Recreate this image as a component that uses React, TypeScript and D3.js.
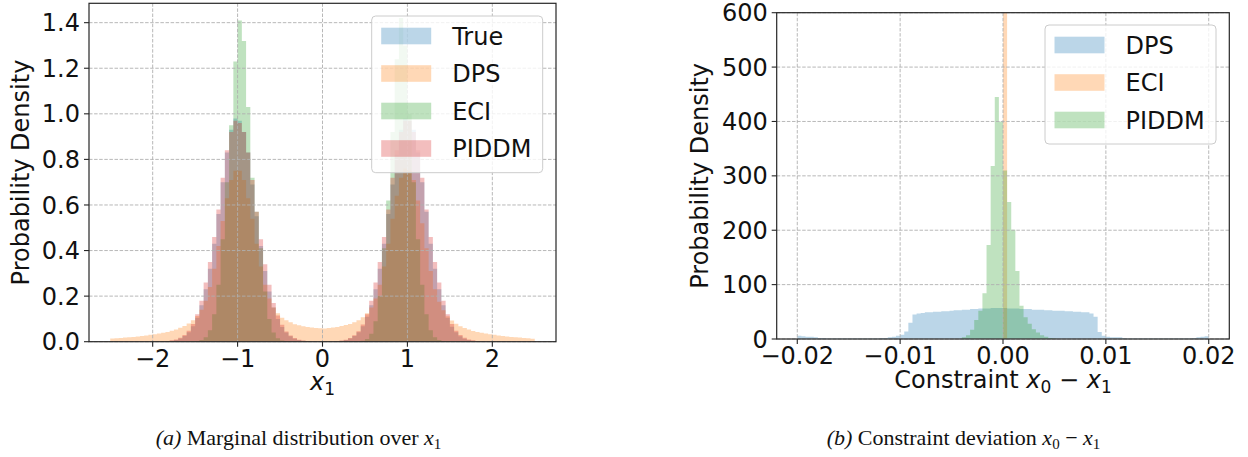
import React, { useEffect, useRef } from "react";
import * as d3 from "d3";

// ---- panel (a): marginal distribution over x1, 100 bins on [-2.5, 2.5]
const X1_BIN_START = -2.5;
const X1_BIN_WIDTH = 0.05;

const trueX1 = [
  0, 0, 0, 0, 0, 0, 0, 0, 0, 0,
  0, 0, 0.001, 0.002, 0.004, 0.008, 0.014, 0.025, 0.042, 0.068,
  0.105, 0.16, 0.23, 0.32, 0.43, 0.56, 0.7, 0.83, 0.93, 0.98,
  0.97, 0.92, 0.83, 0.69, 0.55, 0.42, 0.31, 0.22, 0.15, 0.1,
  0.065, 0.04, 0.024, 0.013, 0.007, 0.004, 0.002, 0.001, 0, 0,
  0, 0, 0.001, 0.002, 0.004, 0.008, 0.014, 0.025, 0.042, 0.068,
  0.11, 0.16, 0.23, 0.32, 0.43, 0.56, 0.69, 0.82, 0.93, 0.98,
  0.97, 0.93, 0.83, 0.7, 0.57, 0.43, 0.32, 0.23, 0.16, 0.105,
  0.066, 0.041, 0.024, 0.013, 0.007, 0.004, 0.002, 0.001, 0, 0,
  0, 0, 0, 0, 0, 0, 0, 0, 0, 0,
];

const dpsX1 = [
  0.014, 0.015, 0.016, 0.018, 0.019, 0.021, 0.023, 0.025, 0.027, 0.03,
  0.033, 0.036, 0.039, 0.043, 0.048, 0.054, 0.061, 0.069, 0.08, 0.094,
  0.113, 0.14, 0.18, 0.24, 0.32, 0.42, 0.53, 0.63, 0.71, 0.75,
  0.75, 0.71, 0.63, 0.54, 0.43, 0.33, 0.25, 0.19, 0.15, 0.125,
  0.105, 0.094, 0.085, 0.077, 0.072, 0.068, 0.065, 0.062, 0.06, 0.059,
  0.058, 0.06, 0.062, 0.065, 0.069, 0.073, 0.078, 0.085, 0.094, 0.107,
  0.125, 0.15, 0.19, 0.25, 0.33, 0.43, 0.54, 0.64, 0.72, 0.76,
  0.75, 0.71, 0.62, 0.52, 0.41, 0.31, 0.23, 0.175, 0.138, 0.112,
  0.093, 0.079, 0.068, 0.06, 0.053, 0.047, 0.043, 0.039, 0.036, 0.033,
  0.03, 0.027, 0.025, 0.023, 0.021, 0.019, 0.018, 0.016, 0.015, 0.013,
];

const eciX1 = [
  0, 0, 0, 0, 0, 0, 0, 0, 0, 0,
  0, 0, 0, 0, 0, 0, 0, 0, 0, 0,
  0.003, 0.008, 0.02, 0.05, 0.12, 0.25, 0.45, 0.7, 0.95, 1.23,
  1.41, 1.32, 1.03, 0.72, 0.57, 0.41, 0.22, 0.1, 0.04, 0.015,
  0.005, 0.002, 0, 0, 0, 0, 0, 0, 0, 0,
  0, 0, 0, 0, 0, 0, 0, 0, 0, 0.004,
  0.012, 0.035, 0.09, 0.2, 0.41, 0.62, 0.92, 1.24, 1.42, 1.3,
  1.0, 0.7, 0.45, 0.25, 0.12, 0.05, 0.02, 0.008, 0.003, 0,
  0, 0, 0, 0, 0, 0, 0, 0, 0, 0,
  0, 0, 0, 0, 0, 0, 0, 0, 0, 0,
];

const piddmX1 = [
  0, 0, 0, 0, 0, 0, 0, 0, 0, 0,
  0, 0.001, 0.0015, 0.003, 0.006, 0.01, 0.017, 0.029, 0.048, 0.078,
  0.12, 0.18, 0.26, 0.35, 0.46, 0.58, 0.72, 0.84, 0.92, 0.97,
  0.96, 0.92, 0.83, 0.71, 0.57, 0.45, 0.34, 0.25, 0.17, 0.115,
  0.074, 0.045, 0.027, 0.016, 0.009, 0.005, 0.003, 0.001, 0, 0,
  0, 0, 0.001, 0.003, 0.005, 0.009, 0.016, 0.028, 0.046, 0.076,
  0.12, 0.18, 0.26, 0.35, 0.46, 0.58, 0.72, 0.84, 0.92, 0.97,
  0.97, 0.92, 0.84, 0.72, 0.58, 0.46, 0.35, 0.26, 0.18, 0.12,
  0.078, 0.048, 0.029, 0.017, 0.01, 0.006, 0.003, 0.0015, 0.001, 0,
  0, 0, 0, 0, 0, 0, 0, 0, 0, 0,
];

const x1TickValues = [-2, -1, 0, 1, 2];
const x1DensityTicks = [0, 0.2, 0.4, 0.6, 0.8, 1.0, 1.2, 1.4];

// ---- panel (b): constraint deviation x0 - x1, 100 bins on [-0.02, 0.02]
const DEV_BIN_START = -0.02;
const DEV_BIN_WIDTH = 0.0004;

const dpsDev = [
  6, 5, 4, 4, 3, 2, 2, 1, 1, 1,
  1, 1, 1, 1, 1, 1, 1, 1, 1, 1,
  2, 2, 3, 4, 6, 8, 14, 30, 45, 47,
  48, 49, 49, 50, 50, 51, 51, 52, 53, 53,
  54, 54, 55, 55, 56, 56, 56, 57, 57, 57,
  57, 56, 56, 56, 55, 55, 55, 54, 54, 54,
  53, 53, 52, 52, 52, 51, 51, 50, 50, 49,
  49, 47, 41, 13, 6, 4, 3, 3, 3, 2,
  1, 1, 1, 1, 1, 1, 1, 1, 1, 1,
  1, 1, 1, 1, 1, 1, 2, 3, 4, 5,
];

const eciDev = [
  0, 0, 0, 0, 0, 0, 0, 0, 0, 0,
  0, 0, 0, 0, 0, 0, 0, 0, 0, 0,
  0, 0, 0, 0, 0, 0, 0, 0, 0, 0,
  0, 0, 0, 0, 0, 0, 0, 0, 0, 0,
  0, 0, 0, 0, 0, 0, 0, 0, 0, 0,
  2500, 0, 0, 0, 0, 0, 0, 0, 0, 0,
  0, 0, 0, 0, 0, 0, 0, 0, 0, 0,
  0, 0, 0, 0, 0, 0, 0, 0, 0, 0,
  0, 0, 0, 0, 0, 0, 0, 0, 0, 0,
  0, 0, 0, 0, 0, 0, 0, 0, 0, 0,
];

const piddmDev = [
  0, 0, 0, 0, 0, 0, 0, 0, 0, 0,
  0, 0, 0, 0, 0, 0, 0, 0, 0, 0,
  0, 0, 0, 0, 0, 0, 0, 0, 0, 0,
  0, 0, 0, 0, 0, 0, 0, 0, 0, 0,
  3, 7, 17, 35, 52, 84, 173, 318, 445, 400,
  310, 252, 201, 125, 61, 40, 28, 18, 12, 7,
  4, 2, 1, 0, 0, 0, 0, 0, 0, 0,
  0, 0, 0, 0, 0, 0, 0, 0, 0, 0,
  0, 0, 0, 0, 0, 0, 0, 0, 0, 0,
  0, 0, 0, 0, 0, 0, 0, 0, 0, 0,
];

const devTickValues = [-0.02, -0.01, 0, 0.01, 0.02];
const devDensityTicks = [0, 100, 200, 300, 400, 500, 600];

const BLUE = "#1f77b4";
const ORANGE = "#ff7f0e";
const GREEN = "#2ca02c";
const RED = "#d62728";

const FONT = "'DejaVu Sans', sans-serif";
const SERIF = "'Liberation Serif', 'Times New Roman', serif";

const panels = [
  {
    id: "pa",
    left: 89, right: 556, top: 3.3, bottom: 341.7,
    xDomain: [-2.75, 2.75], yDomain: [0, 1.485],
    binStart: X1_BIN_START, binWidth: X1_BIN_WIDTH,
    series: [
      { name: "True", values: trueX1, color: BLUE },
      { name: "DPS", values: dpsX1, color: ORANGE },
      { name: "ECI", values: eciX1, color: GREEN },
      { name: "PIDDM", values: piddmX1, color: RED },
    ],
    xTicks: x1TickValues, xFmt: ".0f",
    yTicks: x1DensityTicks, yFmt: ".1f",
    legend: { x: 371.7, y: 16, w: 171, h: 156.7, rowY: [36, 73.5, 111, 148.5] },
    ylabelX: 29,
  },
  {
    id: "pb",
    left: 776.7, right: 1229.3, top: 12.7, bottom: 339,
    xDomain: [-0.022, 0.022], yDomain: [0, 600],
    binStart: DEV_BIN_START, binWidth: DEV_BIN_WIDTH,
    series: [
      { name: "DPS", values: dpsDev, color: BLUE },
      { name: "ECI", values: eciDev, color: ORANGE },
      { name: "PIDDM", values: piddmDev, color: GREEN },
    ],
    xTicks: devTickValues, xFmt: ".2f",
    yTicks: devDensityTicks, yFmt: ".0f",
    legend: { x: 1045, y: 25, w: 171, h: 119, rowY: [45, 82.5, 120] },
    ylabelX: 708,
  },
];

function drawPanel(svg, p) {
  const x = d3.scaleLinear().domain(p.xDomain).range([p.left, p.right]);
  const y = d3.scaleLinear().domain(p.yDomain).range([p.bottom, p.top]);
  const xFmt = d3.format(p.xFmt);
  const yFmt = d3.format(p.yFmt);
  const g = svg.append("g");

  g.append("clipPath")
    .attr("id", p.id + "-clip")
    .append("rect")
    .attr("x", p.left)
    .attr("y", p.top)
    .attr("width", p.right - p.left)
    .attr("height", p.bottom - p.top);

  const bars = g.append("g").attr("clip-path", `url(#${p.id}-clip)`);
  const area = d3
    .area()
    .curve(d3.curveStepAfter)
    .x((d) => x(d.e))
    .y0(y(0))
    .y1((d) => y(d.v));

  p.series.forEach((s) => {
    const n = s.values.length;
    const pts = d3.range(n + 1).map((i) => ({
      e: p.binStart + i * p.binWidth,
      v: s.values[Math.min(i, n - 1)],
    }));
    bars
      .append("path")
      .attr("d", area(pts))
      .attr("fill", s.color)
      .attr("fill-opacity", 0.3);
  });

  // grid sits above the bars, like matplotlib's default
  const grid = g
    .append("g")
    .attr("stroke", "#b0b0b0")
    .attr("stroke-width", 0.9)
    .attr("stroke-dasharray", "3.5,1.6");
  p.xTicks.forEach((t) => {
    grid.append("line")
      .attr("x1", x(t)).attr("x2", x(t))
      .attr("y1", p.top).attr("y2", p.bottom);
  });
  p.yTicks.forEach((t) => {
    grid.append("line")
      .attr("x1", p.left).attr("x2", p.right)
      .attr("y1", y(t)).attr("y2", y(t));
  });

  // spines
  g.append("rect")
    .attr("x", p.left)
    .attr("y", p.top)
    .attr("width", p.right - p.left)
    .attr("height", p.bottom - p.top)
    .attr("fill", "none")
    .attr("stroke", "#262626")
    .attr("stroke-width", 1.2);

  p.xTicks.forEach((t) => {
    g.append("line")
      .attr("x1", x(t)).attr("x2", x(t))
      .attr("y1", p.bottom).attr("y2", p.bottom + 5)
      .attr("stroke", "#262626").attr("stroke-width", 1.1);
    g.append("text")
      .attr("x", x(t))
      .attr("y", p.bottom + 25)
      .attr("text-anchor", "middle")
      .attr("font-size", 24)
      .attr("font-family", FONT)
      .attr("fill", "#111")
      .text(xFmt(t));
  });

  p.yTicks.forEach((t) => {
    g.append("line")
      .attr("x1", p.left - 5).attr("x2", p.left)
      .attr("y1", y(t)).attr("y2", y(t))
      .attr("stroke", "#262626").attr("stroke-width", 1.1);
    g.append("text")
      .attr("x", p.left - 9)
      .attr("y", y(t) + 8.6)
      .attr("text-anchor", "end")
      .attr("font-size", 24)
      .attr("font-family", FONT)
      .attr("fill", "#111")
      .text(yFmt(t));
  });

  const cy = (p.top + p.bottom) / 2;
  g.append("text")
    .attr("transform", `translate(${p.ylabelX},${cy}) rotate(-90)`)
    .attr("text-anchor", "middle")
    .attr("font-size", 24)
    .attr("font-family", FONT)
    .attr("fill", "#111")
    .text("Probability Density");

  // legend
  const L = p.legend;
  const lg = g.append("g");
  lg.append("rect")
    .attr("x", L.x).attr("y", L.y)
    .attr("width", L.w).attr("height", L.h)
    .attr("rx", 4)
    .attr("fill", "white")
    .attr("fill-opacity", 0.8)
    .attr("stroke", "#cccccc")
    .attr("stroke-width", 1);
  p.series.forEach((s, i) => {
    const ry = L.rowY[i];
    lg.append("rect")
      .attr("x", L.x + 9.5)
      .attr("y", ry - 8.3)
      .attr("width", 50)
      .attr("height", 16.6)
      .attr("fill", s.color)
      .attr("fill-opacity", 0.3);
    lg.append("text")
      .attr("x", L.x + 80.5)
      .attr("y", ry + 8.6)
      .attr("font-size", 24)
      .attr("font-family", FONT)
      .attr("fill", "#111")
      .text(s.name);
  });
}

const App = () => {
  const ref = useRef(null);

  useEffect(() => {
    document.body.style.margin = "0";
    const root = d3.select(ref.current);
    root.selectAll("*").remove();
    panels.forEach((p) => drawPanel(root, p));
  }, []);

  return (
    <svg width={1248} height={457} style={{ display: "block", background: "white" }}>
      <g ref={ref}></g>
      <text x={322.5} y={390} textAnchor="middle" fontSize={24} fontFamily={FONT} fill="#111">
        <tspan fontStyle="italic">x</tspan>
        <tspan fontSize={17} dy={5}>1</tspan>
      </text>
      <text x={1003} y={388} textAnchor="middle" fontSize={24} fontFamily={FONT} fill="#111">
        <tspan>Constraint </tspan>
        <tspan fontStyle="italic">x</tspan>
        <tspan fontSize={17} dy={5}>0</tspan>
        <tspan dy={-5}> − </tspan>
        <tspan fontStyle="italic">x</tspan>
        <tspan fontSize={17} dy={5}>1</tspan>
      </text>
      <text x={298.5} y={445} textAnchor="middle" fontSize={22} fontFamily={SERIF} fill="#111">
        <tspan fontStyle="italic">(a)</tspan>
        <tspan> Marginal distribution over </tspan>
        <tspan fontStyle="italic">x</tspan>
        <tspan fontSize={15} dy={4}>1</tspan>
      </text>
      <text x={963.5} y={445} textAnchor="middle" fontSize={22} fontFamily={SERIF} fill="#111">
        <tspan fontStyle="italic">(b)</tspan>
        <tspan> Constraint deviation </tspan>
        <tspan fontStyle="italic">x</tspan>
        <tspan fontSize={15} dy={4}>0</tspan>
        <tspan dy={-4}> − </tspan>
        <tspan fontStyle="italic">x</tspan>
        <tspan fontSize={15} dy={4}>1</tspan>
      </text>
    </svg>
  );
};

export default App;
